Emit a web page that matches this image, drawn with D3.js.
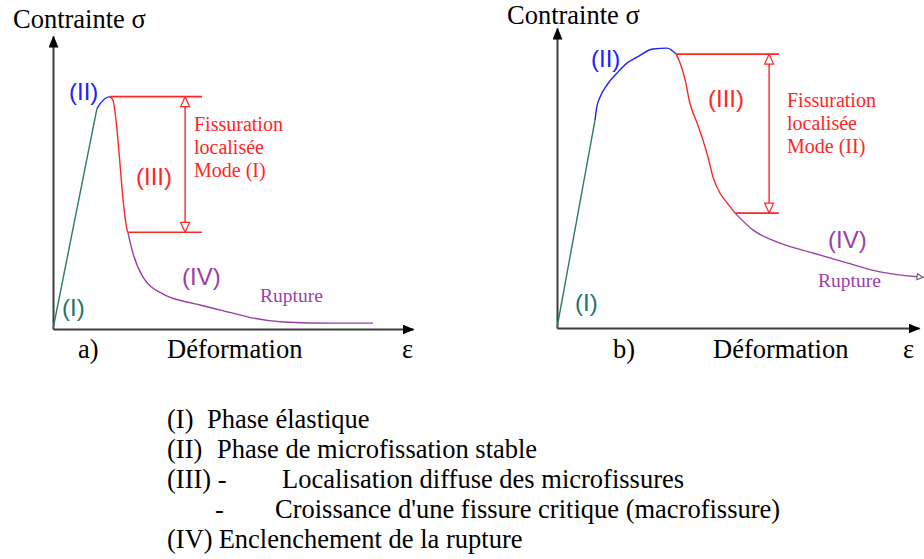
<!DOCTYPE html>
<html>
<head>
<meta charset="utf-8">
<script src="https://cdn.jsdelivr.net/npm/d3@7"></script>
<style>
  body { margin: 0; background: #fff; }
  svg { display: block; }
  .serif { font-family: "Liberation Serif", "DejaVu Serif", "Times New Roman", serif; }
  .sans { font-family: "Liberation Sans", Arial, "DejaVu Sans", sans-serif; }
</style>
</head>
<body>
<svg id="chart" width="924" height="559"></svg>
<script>
// Schematic stress–strain curves of concrete, two cracking modes.
// Strain and stress are in arbitrary units (0–10 on both axes).

const panelLabels = ["a)", "b)"];
const axisTitleY = "Contrainte σ";
const axisTitleX = "Déformation";
const axisSymbolX = "ε";
const stageTags = ["(I)", "(II)", "(III)", "(IV)"];
const bandTitle = ["Fissuration", "localisée"];
const crackModes = ["Mode (I)", "Mode (II)"];
const endLabel = "Rupture";

// Panel a — [strain, stress] per phase
const aElastic = [[0, 0], [1.22, 7.52]];
const aMicro = [[1.22, 7.52], [1.31, 7.69], [1.44, 7.86], [1.58, 7.93]];
const aCrack = [[1.58, 7.93], [1.67, 7.79], [1.78, 6.77], [1.86, 5.65], [1.94, 4.49], [2.06, 3.37], [2.08, 3.30]];
const aFailure = [[2.08, 3.30], [2.22, 2.59], [2.5, 1.77], [3.06, 1.19], [3.72, 0.92], [4.08, 0.82],
                  [5.0, 0.54], [5.56, 0.37], [6.39, 0.24], [7.78, 0.20], [8.89, 0.20]];

// Panel b — [strain, stress] per phase
const bElastic = [[0, 0], [1.05, 6.93]];
const bMicro = [[1.05, 6.93], [1.10, 7.37], [1.19, 7.7], [1.38, 8.1], [1.66, 8.5], [1.93, 8.83],
                [2.21, 9.03], [2.65, 9.3], [3.04, 9.33], [3.29, 9.13]];
const bCrack = [[3.29, 9.13], [3.40, 8.83], [3.54, 8.27], [3.67, 7.5], [3.87, 6.83], [4.03, 6.27],
                [4.17, 5.7], [4.31, 5.03], [4.50, 4.5], [4.70, 4.17], [4.92, 3.83]];
const bFailure = [[4.92, 3.83], [5.41, 3.27], [6.16, 2.83], [7.07, 2.5], [8.01, 2.17], [8.92, 1.87], [10.03, 1.7]];

// Legend of the phases
const legendKeys = ["(I)", "(II)", "(III) -", "-", "(IV)"];
const legendItems = [
  "Phase élastique",
  "Phase de microfissation stable",
  "Localisation diffuse des microfissures",
  "Croissance d'une fissure critique (macrofissure)",
  "Enclenchement de la rupture"
];

const COLORS = {
  elastic: "#2f7d57",
  tagI: "#1f7468",
  micro: "#2020ff",
  crack: "#ff2626",
  failure: "#9a3ea8",
  axis: "#3c3c3c",
  text: "#000"
};

const svg = d3.select("#chart");
const defs = svg.append("defs");

// Solid arrowhead for the axes
defs.append("marker")
  .attr("id", "axisHead")
  .attr("viewBox", "0 0 12 10")
  .attr("refX", 11).attr("refY", 5)
  .attr("markerWidth", 12).attr("markerHeight", 10)
  .attr("markerUnits", "userSpaceOnUse")
  .attr("orient", "auto")
  .append("path").attr("d", "M0,0L12,5L0,10Z").attr("fill", "#000");

// Open arrowhead for the stress-drop dimension line
defs.append("marker")
  .attr("id", "bandHead")
  .attr("viewBox", "0 0 12 11")
  .attr("refX", 11).attr("refY", 5.5)
  .attr("markerWidth", 12).attr("markerHeight", 11)
  .attr("markerUnits", "userSpaceOnUse")
  .attr("orient", "auto-start-reverse")
  .append("path").attr("d", "M1,1L11,5.5L1,10Z")
  .attr("fill", "#fff").attr("stroke", COLORS.crack).attr("stroke-width", 1.2);

// Small open arrowhead at the end of the softening branch
defs.append("marker")
  .attr("id", "tailHead")
  .attr("viewBox", "0 0 8 8")
  .attr("refX", 4).attr("refY", 4)
  .attr("markerWidth", 8).attr("markerHeight", 8)
  .attr("markerUnits", "userSpaceOnUse")
  .attr("orient", "auto")
  .append("path").attr("d", "M1,1L7,4L1,7Z")
  .attr("fill", "#fff").attr("stroke", "#555").attr("stroke-width", 1);

const panels = [
  {
    label: panelLabels[0], mode: crackModes[0],
    elastic: aElastic, micro: aMicro, crack: aCrack, failure: aFailure,
    xRange: [53, 413], yRange: [329, 36],
    bandEnd: 4.14, bandArrow: 3.67, tail: false,
    layout: {
      title: [13, 28], tagI: [62, 316], tagII: [69, 100], tagIII: [136, 185], tagIV: [182, 285],
      band: [194, 131], rupture: [260, 302], panel: [78, 358], xTitle: [167, 358], eps: [402, 358]
    }
  },
  {
    label: panelLabels[1], mode: crackModes[1],
    elastic: bElastic, micro: bMicro, crack: bCrack, failure: bFailure,
    xRange: [557, 919], yRange: [328, 28],
    bandEnd: 6.13, bandArrow: 5.86, tail: true,
    layout: {
      title: [507, 24], tagI: [575, 311], tagII: [591, 67], tagIII: [708, 107], tagIV: [828, 248],
      band: [787, 107], rupture: [818, 287], panel: [613, 358], xTitle: [713, 358], eps: [903, 358]
    }
  }
];

function text(g, str, pos, cls, size, color) {
  return g.append("text")
    .attr("class", cls)
    .attr("x", pos[0]).attr("y", pos[1])
    .style("font-size", size + "px")
    .attr("fill", color).text(str);
}

panels.forEach(p => {
  const g = svg.append("g");
  const x = d3.scaleLinear().domain([0, 10]).range(p.xRange);
  const y = d3.scaleLinear().domain([0, 10]).range(p.yRange);

  // Axes: domain lines only, finished with arrowheads
  const xAxis = g.append("g")
    .attr("transform", `translate(0,${y(0)})`)
    .call(d3.axisBottom(x).tickValues([]).tickSizeOuter(0));
  const yAxis = g.append("g")
    .attr("transform", `translate(${x(0)},0)`)
    .call(d3.axisLeft(y).tickValues([]).tickSizeOuter(0));
  [xAxis, yAxis].forEach(a => a.select(".domain")
    .attr("stroke", COLORS.axis).attr("stroke-width", 2)
    .attr("marker-end", "url(#axisHead)"));

  const line = d3.line().x(d => x(d[0])).y(d => y(d[1])).curve(d3.curveMonotoneX);

  const phases = [
    [p.elastic, COLORS.elastic],
    [p.micro, COLORS.micro],
    [p.crack, COLORS.crack],
    [p.failure, COLORS.failure]
  ];
  phases.forEach(([pts, col], i) => {
    const path = g.append("path").datum(pts)
      .attr("d", line)
      .attr("fill", "none").attr("stroke", col).attr("stroke-width", 1.4);
    if (i === 3 && p.tail) path.attr("marker-end", "url(#tailHead)");
  });

  // Stress drop of the localised cracking phase
  const top = p.crack[0][1];
  const bottom = p.crack[p.crack.length - 1][1];
  g.append("line")
    .attr("x1", x(p.crack[0][0])).attr("x2", x(p.bandEnd))
    .attr("y1", y(top)).attr("y2", y(top))
    .attr("stroke", COLORS.crack).attr("stroke-width", 1.6);
  g.append("line")
    .attr("x1", x(p.crack[p.crack.length - 1][0])).attr("x2", x(p.bandEnd))
    .attr("y1", y(bottom)).attr("y2", y(bottom))
    .attr("stroke", COLORS.crack).attr("stroke-width", 1.6);
  g.append("line")
    .attr("x1", x(p.bandArrow)).attr("x2", x(p.bandArrow))
    .attr("y1", y(top)).attr("y2", y(bottom))
    .attr("stroke", COLORS.crack).attr("stroke-width", 1.4)
    .attr("marker-start", "url(#bandHead)")
    .attr("marker-end", "url(#bandHead)");

  const L = p.layout;
  text(g, axisTitleY, L.title, "serif", 26.5, COLORS.text);
  text(g, p.label, L.panel, "serif", 26.5, COLORS.text);
  text(g, axisTitleX, L.xTitle, "serif", 26.5, COLORS.text);
  text(g, axisSymbolX, L.eps, "serif", 26.5, COLORS.text);

  text(g, stageTags[0], L.tagI, "sans", 24, COLORS.tagI);
  text(g, stageTags[1], L.tagII, "sans", 24, COLORS.micro);
  text(g, stageTags[2], L.tagIII, "sans", 24, COLORS.crack);
  text(g, stageTags[3], L.tagIV, "sans", 24, COLORS.failure);

  [bandTitle[0], bandTitle[1], p.mode].forEach((s, i) =>
    text(g, s, [L.band[0], L.band[1] + i * 23], "serif", 20, COLORS.crack));
  text(g, endLabel, L.rupture, "serif", 19.5, COLORS.failure);
});

// Phase legend below the two panels
const legendKeyX = [167, 167, 167, 215, 167];
const legendTextX = [207, 217, 282, 275, 205];
const legend = svg.append("g");
legendItems.forEach((item, i) => {
  const yy = 428 + i * 30;
  const key = text(legend, legendKeys[i], [legendKeyX[i], yy], "serif", 26.5, COLORS.text);
  const keyEnd = legendKeyX[i] + key.node().getComputedTextLength();
  text(legend, item, [Math.max(legendTextX[i], keyEnd + 6), yy], "serif", 26.5, COLORS.text);
});
</script>
</body>
</html>
